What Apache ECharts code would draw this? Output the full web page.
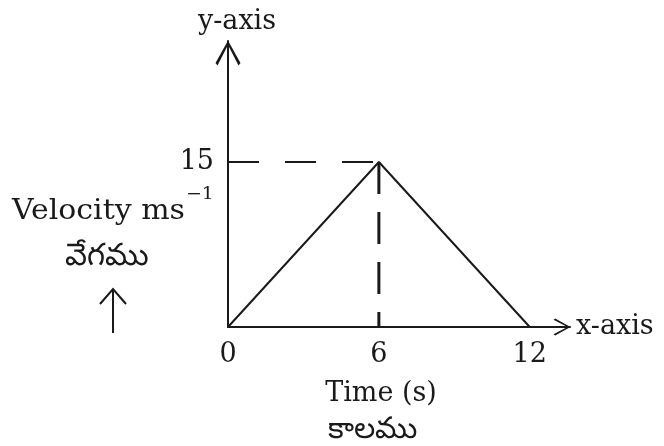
<!DOCTYPE html>
<html>
<head>
<meta charset="utf-8">
<script src="https://cdn.jsdelivr.net/npm/echarts@6/dist/echarts.min.js"></script>
<style>
  html, body { margin: 0; padding: 0; background: #fff; }
  #chart { width: 664px; height: 446px; }
</style>
</head>
<body>
<div id="chart"></div>
<script>
// velocity-time graph data
var timeVals = [0, 6, 12];
var velocityVals = [0, 15, 0];
var xTickLabels = [0, 6, 12];
var yTickLabels = [15];
var peakTime = 6;
var peakVelocity = 15;

var serif = 'DejaVu Serif, Liberation Serif, serif';
var ink = '#1a1a1a';

// open chevron used for the arrow heads of both axes
var chevron = 'path://M50,0 L100,90 L92,100 L50,18 L8,100 L0,90 Z';

var chart = echarts.init(document.getElementById('chart'));

var mainData = [];
for (let i = 0; i < timeVals.length; i++) {
    mainData.push([timeVals[i], velocityVals[i]]);
}

var option = {
    animation: false,
    backgroundColor: '#fff',
    grid: { left: 228, right: 94, top: 41, bottom: 119 },
    xAxis: {
        type: 'value',
        min: 0,
        max: 13.6,
        name: 'x-axis',
        nameLocation: 'end',
        nameGap: 6,
        nameTextStyle: { fontFamily: serif, fontSize: 27, color: ink },
        axisLine: {
            show: true,
            onZero: false,
            symbol: ['none', chevron],
            symbolSize: [19, 17],
            symbolOffset: [0, -8],
            lineStyle: { color: ink, width: 2 }
        },
        axisTick: { show: false },
        splitLine: { show: false },
        axisLabel: {
            customValues: xTickLabels,
            margin: 14,
            fontFamily: serif,
            fontSize: 27,
            color: ink
        }
    },
    yAxis: {
        type: 'value',
        min: 0,
        max: 26,
        name: 'y-axis',
        nameLocation: 'end',
        nameGap: 6,
        nameTextStyle: { fontFamily: serif, fontSize: 27, color: ink, padding: [0, 0, 0, 18] },
        axisLine: {
            show: true,
            onZero: false,
            symbol: ['none', chevron],
            symbolSize: [26, 25],
            symbolOffset: [0, -12],
            lineStyle: { color: ink, width: 2 }
        },
        axisTick: { show: false },
        splitLine: { show: false },
        axisLabel: {
            customValues: yTickLabels,
            margin: 14,
            fontFamily: serif,
            fontSize: 27,
            color: ink
        }
    },
    series: [
        {
            type: 'line',
            data: mainData,
            symbol: 'none',
            lineStyle: { color: ink, width: 2 }
        },
        {
            type: 'line',
            data: [[0, peakVelocity], [peakTime, peakVelocity]],
            symbol: 'none',
            lineStyle: { color: ink, width: 2, type: [31, 26] }
        },
        {
            type: 'line',
            data: [[peakTime, peakVelocity], [peakTime, 0]],
            symbol: 'none',
            lineStyle: { color: ink, width: 3, type: [32, 18] }
        }
    ],
    graphic: [
        {
            type: 'text',
            x: 381, y: 394,
            style: { text: 'Time (s)', fontFamily: serif, fontSize: 27, fill: ink, align: 'center', verticalAlign: 'middle' }
        },
        {
            type: 'text',
            x: 372, y: 430,
            style: { text: 'కాలము', fontFamily: serif, fontSize: 30, fill: ink, align: 'center', verticalAlign: 'middle' }
        },
        {
            type: 'text',
            x: 12, y: 212,
            scaleX: 1.11,
            style: {
                text: 'Velocity ms{sup|−1}',
                fontFamily: serif, fontSize: 27, fill: ink, align: 'left', verticalAlign: 'middle',
                rich: { sup: { fontFamily: serif, fontSize: 17, fill: ink, padding: [0, 0, 34, 1] } }
            }
        },
        {
            type: 'text',
            x: 107, y: 257,
            style: { text: 'వేగము', fontFamily: serif, fontSize: 31, fill: ink, align: 'center', verticalAlign: 'middle' }
        },
        {
            type: 'group',
            children: [
                { type: 'line', shape: { x1: 113, y1: 333, x2: 113, y2: 289 }, style: { stroke: ink, lineWidth: 2 } },
                { type: 'polyline', shape: { points: [[100, 304], [113, 289], [126, 304]] }, style: { stroke: ink, lineWidth: 2, fill: null } }
            ]
        }
    ]
};

chart.setOption(option);
</script>
</body>
</html>
